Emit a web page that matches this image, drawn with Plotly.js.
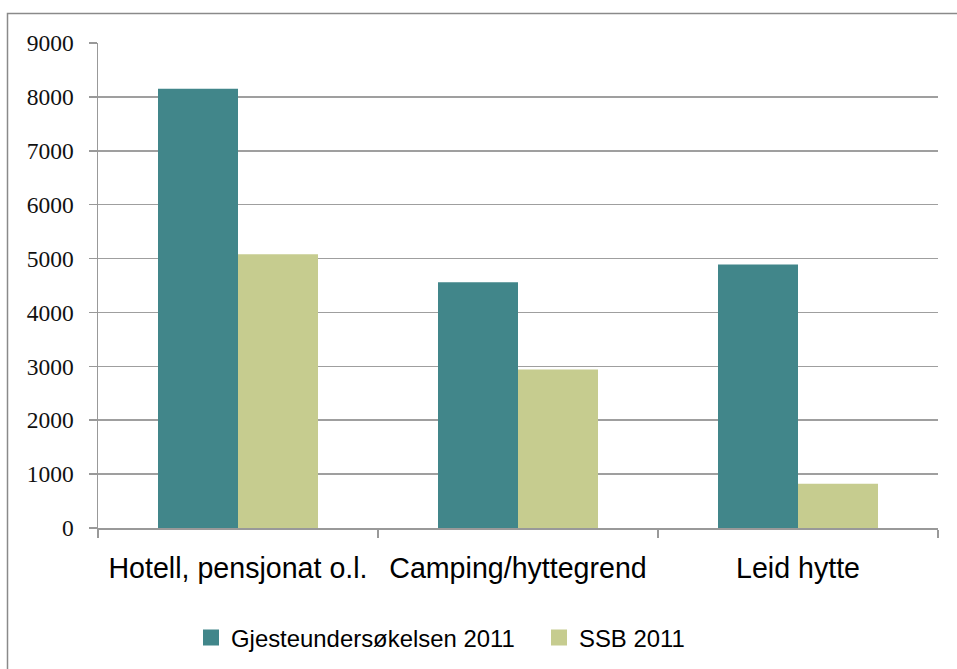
<!DOCTYPE html>
<html>
<head>
<meta charset="utf-8">
<script src="https://cdn.plot.ly/plotly-3.0.1.min.js"></script>
<style>
  html, body { margin: 0; padding: 0; background: #ffffff; }
  #chart { width: 957px; height: 669px; }
</style>
</head>
<body>
<div id="chart"></div>
<script>
const categories = ["Hotell, pensjonat o.l.", "Camping/hyttegrend", "Leid hytte"];
const seriesNames = ["Gjesteundersøkelsen 2011", "SSB 2011"];
const gjesteundersokelsen2011 = [8150, 4560, 4890];
const ssb2011 = [5080, 2940, 820];
const yTickValues = [0, 1000, 2000, 3000, 4000, 5000, 6000, 7000, 8000, 9000];

const colors = ["#41868a", "#c6cc8f"];
const narrowFont = "Liberation Sans Narrow, Arial Narrow, Liberation Sans, Arial, sans-serif";
const serifFont = "Liberation Serif, Times New Roman, serif";

function fitSize(text, family, targetWidth) {
  const ctx = document.createElement("canvas").getContext("2d");
  ctx.font = "100px " + family;
  return Math.round(10 * 100 * targetWidth / ctx.measureText(text).width) / 10;
}
const xLabelSize = Math.min(34, fitSize(categories[0], narrowFont, 259));
const legendSize = Math.min(33, fitSize(seriesNames[0], narrowFont, 284));

const traces = [
  { type: "bar", x: categories, y: gjesteundersokelsen2011, name: seriesNames[0],
    marker: { color: colors[0] }, showlegend: false, hoverinfo: "y" },
  { type: "bar", x: categories, y: ssb2011, name: seriesNames[1],
    marker: { color: colors[1] }, showlegend: false, hoverinfo: "y" },
  { type: "scatter", mode: "markers", x: [null], y: [null], name: seriesNames[0],
    marker: { symbol: "square", size: 16, color: colors[0] }, showlegend: true },
  { type: "scatter", mode: "markers", x: [null], y: [null], name: seriesNames[1],
    marker: { symbol: "square", size: 16, color: colors[1] }, showlegend: true }
];

const layout = {
  width: 957, height: 669,
  margin: { l: 98, r: 19, t: 43, b: 141, autoexpand: false },
  paper_bgcolor: "#ffffff", plot_bgcolor: "#ffffff",
  barmode: "group", bargap: 0.4286, bargroupgap: 0,
  showlegend: true,
  legend: {
    orientation: "h", x: (191 - 98) / 840, xanchor: "left", y: (528 - 638) / 485, yanchor: "middle",
    font: { family: narrowFont, size: legendSize, color: "#000000" },
    entrywidth: 303, entrywidthmode: "pixels",
    bgcolor: "rgba(0,0,0,0)", traceorder: "normal"
  },
  xaxis: {
    type: "category",
    showline: true, linecolor: "#999999", linewidth: 1.5,
    ticks: "outside", tickson: "boundaries", ticklen: 8, tickcolor: "#999999", tickwidth: 1.5,
    showgrid: false, zeroline: false, tickangle: 0,
    tickfont: { family: narrowFont, size: xLabelSize, color: "#000000" },
    ticklabelstandoff: 14
  },
  yaxis: {
    range: [0, 9000], tickvals: yTickValues, ticktext: yTickValues.map(String),
    showline: true, linecolor: "#999999", linewidth: 1.5,
    ticks: "outside", ticklen: 8, tickcolor: "#999999", tickwidth: 1.5,
    showgrid: true, gridcolor: "#9f9f9f", gridwidth: 1.5,
    zeroline: false,
    tickfont: { family: serifFont, size: 23.5, color: "#111111" },
    ticklabelstandoff: 10
  },
  shapes: [
    { type: "rect", xref: "paper", yref: "paper",
      x0: (7.5 - 98) / 840, x1: (965 - 98) / 840,
      y0: (528 - 680) / 485, y1: (528 - 13.5) / 485,
      line: { color: "#8a8a8a", width: 1.5 }, fillcolor: "rgba(0,0,0,0)", layer: "below" }
  ]
};

Plotly.newPlot("chart", traces, layout, { staticPlot: true, displayModeBar: false });
</script>
</body>
</html>
